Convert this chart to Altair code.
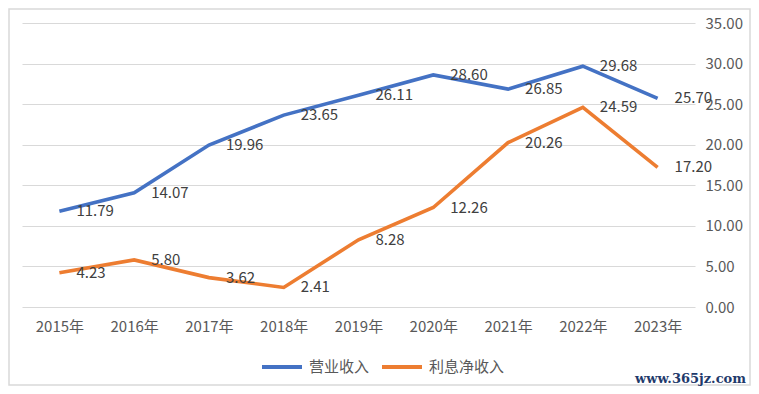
import altair as alt
import pandas as pd

years = ["2015年", "2016年", "2017年", "2018年", "2019年", "2020年", "2021年", "2022年", "2023年"]
revenue = [11.79, 14.07, 19.96, 23.65, 26.11, 28.60, 26.85, 29.68, 25.70]
net_interest = [4.23, 5.80, 3.62, 2.41, 8.28, 12.26, 20.26, 24.59, 17.20]
series_names = ["营业收入", "利息净收入"]
series_colors = ["#4472C4", "#ED7D31"]
y_ticks = [0, 5, 10, 15, 20, 25, 30, 35]
watermark = "www.365jz.com"

rows = []
for name, vals in zip(series_names, [revenue, net_interest]):
    for y, v in zip(years, vals):
        rows.append({"year": y, "series": name, "value": v})
df = pd.DataFrame(rows)

FONT = "Noto Sans CJK SC"
GRAY = "#595959"

x_enc = alt.X("year:O", sort=years, scale=alt.Scale(type="point", padding=0.5),
              axis=alt.Axis(title=None, labelAngle=0, labelPadding=12, ticks=False,
                            domain=False, grid=False, labelFontSize=15,
                            labelColor=GRAY, labelFont=FONT))
y_enc = alt.Y("value:Q", scale=alt.Scale(domain=[0, 35], nice=False),
              axis=alt.Axis(title=None, orient="right", values=y_ticks, format=".2f",
                            labelAlign="left", labelPadding=10, ticks=False, domain=False,
                            grid=True, gridColor="#d9d9d9", gridWidth=1.2,
                            labelFontSize=15, labelColor=GRAY, labelFont=FONT))
color_enc = alt.Color("series:N", sort=series_names,
                      scale=alt.Scale(domain=series_names, range=series_colors),
                      legend=alt.Legend(title=None, orient="none", legendX=238, legendY=322,
                                        direction="horizontal", symbolType="stroke",
                                        symbolSize=1600, symbolStrokeWidth=4,
                                        labelFontSize=15, labelColor=GRAY, labelFont=FONT,
                                        labelOffset=5, columnPadding=4))

base = alt.Chart(df)
lines = base.mark_line(strokeWidth=3.6).encode(x=x_enc, y=y_enc, color=color_enc)
labels = base.mark_text(align="left", baseline="middle", dx=17, fontSize=15,
                        font=FONT, color="#404040").encode(
    x=alt.X("year:O", sort=years),
    y=alt.Y("value:Q"),
    text=alt.Text("value:Q", format=".2f"),
)

deco = pd.DataFrame({"t": [watermark]})
border = alt.Chart(deco).mark_rect(fill=None, stroke="#d9d9d9", strokeWidth=1.5).encode(
    x=alt.value(-13), x2=alt.value(728), y=alt.value(-14), y2=alt.value(362))
wm = alt.Chart(deco).mark_text(align="right", baseline="middle", font="DejaVu Serif",
                               fontWeight="bold", fontSize=13, color="#1f3a6b").encode(
    x=alt.value(724), y=alt.value(356), text="t:N")

chart = alt.layer(border, lines, labels, wm).properties(
    width=673, height=284,
    autosize=alt.AutoSizeParams(type="none"),
    padding={"left": 14, "top": 15, "right": 56, "bottom": 79},
    background="white",
).configure_view(stroke=None).resolve_scale(x="shared", y="shared")

chart.save("out.html", embed_options={"renderer": "svg", "actions": False})
